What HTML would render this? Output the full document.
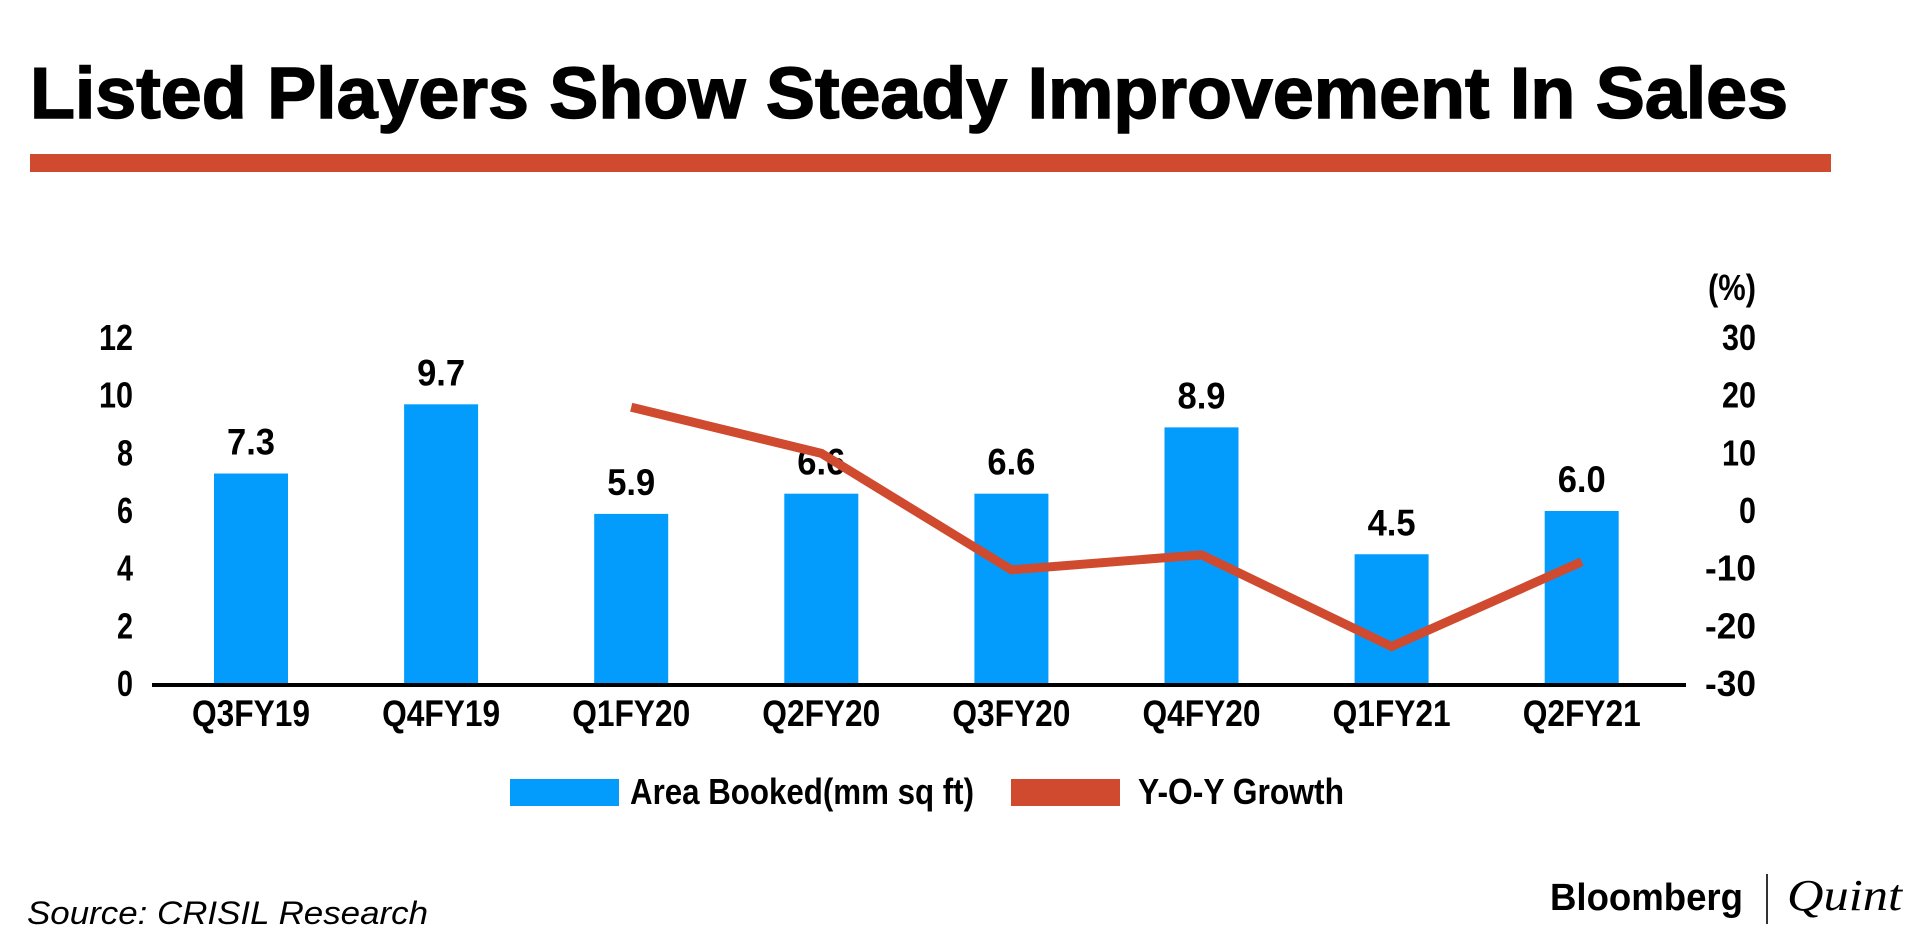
<!DOCTYPE html>
<html><head><meta charset="utf-8">
<style>
html,body{margin:0;padding:0;background:#fff;}
svg{display:block;}
.c{font-family:"Liberation Sans",sans-serif;font-weight:bold;fill:#000;}
</style></head>
<body>
<svg id="chart" width="1920" height="948" viewBox="0 0 1920 948" xmlns="http://www.w3.org/2000/svg">
  <text x="30" y="118" font-family="Liberation Sans, sans-serif" font-weight="bold" font-size="72" textLength="1758" lengthAdjust="spacingAndGlyphs" stroke="#000" stroke-width="1.5">Listed Players Show Steady Improvement In Sales</text>
  <rect x="30" y="154" width="1801" height="18" fill="#cf4a2e"/>
  <g id="plot"></g>
  <rect x="510" y="779" width="109" height="27" fill="#039cfd"/>
  <text class="c" x="630" y="804" font-size="36" textLength="344" lengthAdjust="spacingAndGlyphs">Area Booked(mm sq ft)</text>
  <rect x="1011" y="779" width="109" height="27" fill="#cf4a2e"/>
  <text class="c" x="1138" y="804" font-size="36" textLength="206" lengthAdjust="spacingAndGlyphs">Y-O-Y Growth</text>
  <text x="27" y="924" font-family="Liberation Sans, sans-serif" font-style="italic" font-size="32" textLength="401" lengthAdjust="spacingAndGlyphs">Source: CRISIL Research</text>
  <text x="1550" y="910" font-family="Liberation Sans, sans-serif" font-weight="bold" font-size="38" textLength="193" lengthAdjust="spacingAndGlyphs">Bloomberg</text>
  <rect x="1766" y="874" width="2" height="50" fill="#333"/>
  <text x="1787" y="910" font-family="Liberation Serif, serif" font-style="italic" font-size="44" textLength="115" lengthAdjust="spacingAndGlyphs">Quint</text>
</svg>
<script>
const categories = ["Q3FY19","Q4FY19","Q1FY20","Q2FY20","Q3FY20","Q4FY20","Q1FY21","Q2FY21"];
const areaBooked = [7.3, 9.7, 5.9, 6.6, 6.6, 8.9, 4.5, 6.0];
const areaLabels = ["7.3","9.7","5.9","6.6","6.6","8.9","4.5","6.0"];
const yoyGrowth = [null, null, 18, 10, -10.2, -7.6, -23.5, -8.8];
const leftTicks = [0, 2, 4, 6, 8, 10, 12];
const rightTicks = [-30, -20, -10, 0, 10, 20, 30];

const NS = "http://www.w3.org/2000/svg";
const g = document.getElementById("plot");
const baseY = 684, topY = 338;
const x0 = 251, step = 190.1;
function xPos(i){ return x0 + i*step; }
function yLeft(v){ return baseY - (v/12)*(baseY-topY); }
function yRight(v){ return baseY - ((v+30)/60)*(baseY-topY); }
function mk(tag, attrs){ const e=document.createElementNS(NS,tag); for(const k in attrs) e.setAttribute(k, attrs[k]); g.appendChild(e); return e; }
function txt(x,y,s,size,anchor,w){ const t=mk("text",{x:x,y:y,"font-size":size,"text-anchor":anchor,"class":"c"}); if(w){t.setAttribute("textLength",w);t.setAttribute("lengthAdjust","spacingAndGlyphs");} t.textContent=s; return t; }

// bars
areaBooked.forEach((v,i)=>{
  const b = mk("rect",{x:xPos(i)-37,y:yLeft(v),width:74,height:baseY-yLeft(v),fill:"#039cfd"});
  
  
  const t = txt(xPos(i), yLeft(v)-19, areaLabels[i], 37, "middle", 48);
  
  
});
// axis line
const ax = mk("rect",{x:152,y:baseY-1,width:1534,height:4,fill:"#000"});


// line
let pts = [];
yoyGrowth.forEach((v,i)=>{ if(v!==null) pts.push(xPos(i)+","+yRight(v)); });
const pl = mk("polyline",{points:pts.join(" "),fill:"none",stroke:"#cf4a2e","stroke-width":9,"stroke-linejoin":"miter"});


// x labels
categories.forEach((c,i)=>{
  const t = txt(xPos(i), 726, c, 37, "middle", 118);
  
  
});
// left ticks
leftTicks.forEach(v=>{
  const t = txt(133, yLeft(v)+12, String(v), 36, "end", v>=10?34:16);
  
  
});
// right ticks
rightTicks.forEach(v=>{
  const s = String(v);
  const t = txt(1756, yRight(v)+12, s, 36, "end", s.length*17);
  
  
});
const pc = txt(1756, 300, "(%)", 36, "end", 48);


</script>
</body></html>
